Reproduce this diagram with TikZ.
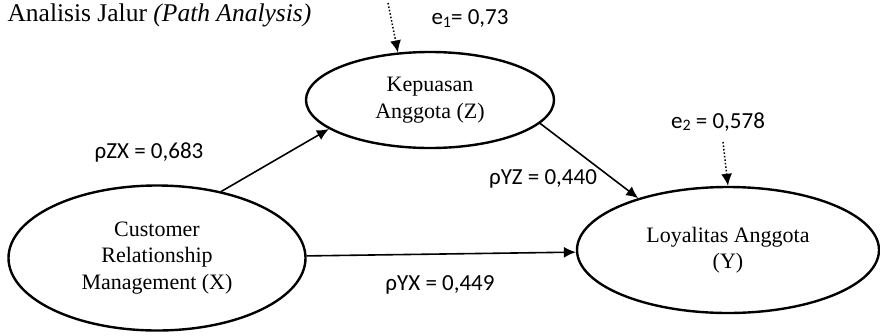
\documentclass[tikz,border=0pt]{standalone}
\usepackage{amsmath}
\usepackage{fontspec}
\setmainfont{Liberation Serif}
\newfontfamily\coeffont{Carlito}
\newcommand{\errsub}[1]{\raisebox{-2.5pt}{\fontsize{16}{16}\selectfont#1}}
\usetikzlibrary{positioning,arrows.meta,shapes.geometric}

\begin{document}
\begin{tikzpicture}[x=1pt,y=-1pt,>={Latex[length=12pt,width=11pt]},
    every node/.style={on grid},
    var/.style={draw,ellipse,line width=2.4pt,inner sep=0pt,align=center,font=\fontsize{22}{26.5}\selectfont},
    coef/.style={font=\coeffont\fontsize{23}{27}\selectfont},
    link/.style={->,line width=1.6pt},
    err/.style={->,dotted,line width=1.5pt}]
    \useasboundingbox (0,0) rectangle (880,335);
    \node[anchor=base west,font=\fontsize{25.5}{30}\selectfont] (title) at (4,21) {Analisis Jalur \textit{(Path Analysis)}};
    \node[var,minimum width=297pt,minimum height=145pt] (X) at (157,258) {Customer\\Relationship\\Management (X)};
    \node[var,minimum width=248pt,minimum height=96pt,above right=158pt and 273pt of X] (Z) {Kepuasan\\Anggota (Z)};
    \node[var,minimum width=302pt,minimum height=126pt,above right=8pt and 571pt of X] (Y) {Loyalitas Anggota\\(Y)};
    \node[coef] (zx) at (149,152) {ρZX = 0,683};
    \node[coef] (yz) at (543,179) {ρYZ = 0,440};
    \node[coef] (yx) at (440,285) {ρYX = 0,449};
    \node[coef] (e1) at (470,19) {e\errsub{1}= 0,73};
    \node[coef] (e2) at (718,122) {e\errsub{2} = 0,578};
    \coordinate (e1top) at (388,3);
    \coordinate (e2top) at (723,142);
    \draw[link] (X.46) -- (Z.196);
    \draw[link] (Z.-12) -- (Y.150);
    \draw[link] (X) -- (Y);
    \draw[err] (e1top) -- (Z.124);
    \draw[err] (e2top) -- (Y.north);
  \end{tikzpicture}
\end{document}
